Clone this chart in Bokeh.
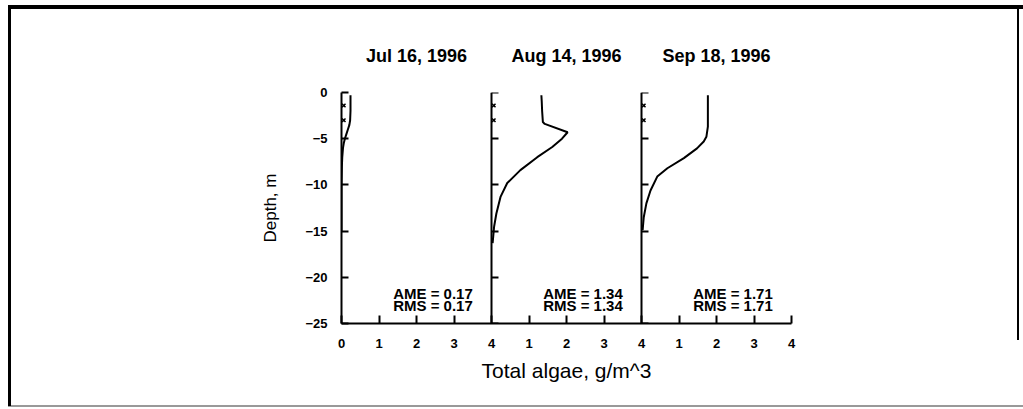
from bokeh.plotting import figure
from bokeh.models import Range1d, LinearAxis, FixedTicker
from bokeh.embed import file_html
from bokeh.resources import INLINE
from bokeh.core.properties import value

# ---- data ----
panel_titles = ["Jul 16, 1996", "Aug 14, 1996", "Sep 18, 1996"]
panel_offsets = [0, 4, 8]

jul_depth = [-0.3, -1, -2, -3, -3.5, -4, -4.5, -5, -5.5, -6, -7, -8, -10, -15]
jul_conc = [0.24, 0.24, 0.24, 0.23, 0.21, 0.17, 0.13, 0.09, 0.06, 0.04, 0.02, 0.01, 0.0, 0.0]

aug_depth = [-0.3, -1, -2, -3.2, -3.4, -4.3, -5.0, -5.9, -7.0, -8.4, -9.8, -11.3, -13.1, -14.5, -16.3]
aug_conc = [1.33, 1.34, 1.35, 1.37, 1.42, 2.03, 1.88, 1.62, 1.22, 0.77, 0.42, 0.24, 0.13, 0.07, 0.03]

sep_depth = [-0.3, -2, -3.7, -4.8, -5.3, -6.05, -7.1, -8.2, -9.1, -10.6, -12.0, -13.5, -14.9]
sep_conc = [1.77, 1.77, 1.77, 1.73, 1.66, 1.48, 1.13, 0.69, 0.42, 0.24, 0.13, 0.06, 0.03]

ame_values = ["0.17", "1.34", "1.71"]
rms_values = ["0.17", "1.34", "1.71"]

obs_depths = [-1.4, -3.0]

y_ticks = [0, -5, -10, -15, -20, -25]
x_ticks = list(range(0, 13))
x_tick_labels = ["0", "1", "2", "3", "4", "1", "2", "3", "4", "1", "2", "3", "4"]

profiles = [(jul_depth, jul_conc), (aug_depth, aug_conc), (sep_depth, sep_conc)]

FONT = "Liberation Sans"

p = figure(width=1023, height=409, x_range=Range1d(0, 12), y_range=Range1d(-25, 0),
           output_backend="svg", toolbar_location=None,
           min_border_left=341, min_border_right=232, min_border_top=92, min_border_bottom=86)
p.outline_line_color = None
p.grid.visible = False
p.background_fill_color = None
p.border_fill_color = None

# outer scanned-page frame, drawn as the figure's CSS background (under the transparent canvas)
frame_css = ", ".join([
    "linear-gradient(#000, #000) 8px 5px / 1015px 4px no-repeat",
    "linear-gradient(#000, #000) 8px 5px / 3px 401px no-repeat",
    "linear-gradient(#000, #000) 1017px 5px / 2px 335px no-repeat",
    "linear-gradient(#999, #999) 8px 405px / 1015px 2px no-repeat",
    "#ffffff",
])
p.styles = {"background": frame_css}

# bottom axis
xa = p.xaxis[0]
xa.ticker = FixedTicker(ticks=x_ticks)
xa.major_label_overrides = {t: l for t, l in zip(x_ticks, x_tick_labels)}
xa.major_tick_in = 8
xa.major_tick_out = 0
xa.minor_tick_line_color = None
xa.axis_line_width = 2
xa.major_tick_line_width = 2
xa.major_label_text_font = FONT
xa.major_label_text_font_style = "bold"
xa.major_label_text_font_size = "13px"
xa.major_label_text_color = "black"
xa.major_label_standoff = 15
xa.axis_label = "Total algae, g/m^3"
xa.axis_label_text_font = FONT
xa.axis_label_text_font_style = "normal"
xa.axis_label_text_font_size = "21px"
xa.axis_label_text_color = "black"
xa.axis_label_standoff = 8

# left axis (panel 1)
ya = p.yaxis[0]
ya.ticker = FixedTicker(ticks=y_ticks)
ya.major_tick_in = 7
ya.major_tick_out = 0
ya.minor_tick_line_color = None
ya.axis_line_width = 2
ya.major_tick_line_width = 2
ya.major_label_text_font = FONT
ya.major_label_text_font_style = "bold"
ya.major_label_text_font_size = "13px"
ya.major_label_text_color = "black"
ya.major_label_standoff = 14
ya.axis_label = "Depth, m"
ya.axis_label_text_font = FONT
ya.axis_label_text_font_style = "normal"
ya.axis_label_text_font_size = "17px"
ya.axis_label_text_color = "black"
ya.axis_label_standoff = 22

# inner panel axes (left edges of panels 2 and 3)
for off in panel_offsets[1:]:
    ax = LinearAxis(fixed_location=off, ticker=FixedTicker(ticks=y_ticks),
                    major_tick_in=7, major_tick_out=0, minor_tick_line_color=None,
                    axis_line_width=2, major_tick_line_width=2,
                    major_label_overrides={t: "" for t in y_ticks},
                    major_label_standoff=0)
    p.add_layout(ax, "left")

# panel titles as an axis above the plot
title_ticks = [off + 2 for off in panel_offsets]
ta = LinearAxis(ticker=FixedTicker(ticks=title_ticks),
                major_label_overrides={t: s for t, s in zip(title_ticks, panel_titles)},
                axis_line_color=None, major_tick_line_color=None, minor_tick_line_color=None,
                major_label_text_font=FONT, major_label_text_font_style="bold",
                major_label_text_font_size="18px", major_label_text_color="black",
                major_label_standoff=21)
p.add_layout(ta, "above")

# profiles
for off, (d, c) in zip(panel_offsets, profiles):
    p.line([v + off for v in c], d, line_color="black", line_width=2)
    p.scatter([off + 0.06] * len(obs_depths), obs_depths, marker="x", size=5,
              line_color="black", line_width=1.5)

# AME / RMS text
for off, a, r in zip(panel_offsets, ame_values, rms_values):
    p.text([off + 3.5], [-21.8], text=[f"AME = {a}"], text_align="right",
           text_baseline="middle", text_font=value(FONT), text_font_style="bold",
           text_font_size="15px", text_color="black")
    p.text([off + 3.5], [-23.0], text=[f"RMS = {r}"], text_align="right",
           text_baseline="middle", text_font=value(FONT), text_font_style="bold",
           text_font_size="15px", text_color="black")

open("out.html", "w").write(file_html(p, INLINE))
